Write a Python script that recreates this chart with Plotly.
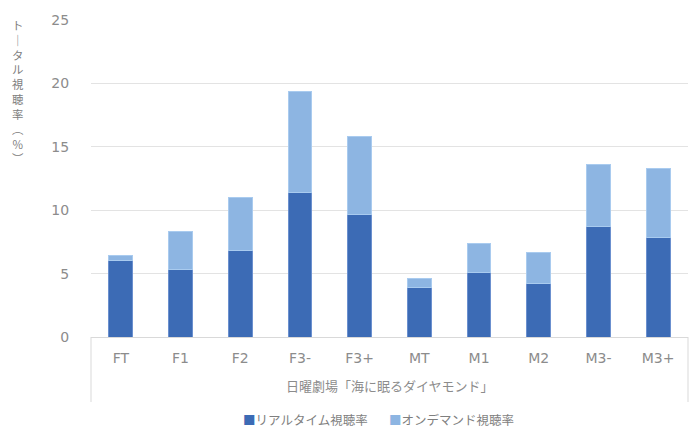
import plotly.graph_objects as go

# Audience ratings by demographic segment (%)
categories = ["FT", "F1", "F2", "F3-", "F3+", "MT", "M1", "M2", "M3-", "M3+"]
realtime = [6.0, 5.35, 6.8, 11.4, 9.65, 3.9, 5.05, 4.25, 8.75, 7.85]
on_demand = [0.45, 3.0, 4.2, 7.95, 6.2, 0.75, 2.35, 2.4, 4.85, 5.4]

series_names = ["リアルタイム視聴率", "オンデマンド視聴率"]
group_label = "日曜劇場「海に眠るダイヤモンド」"
y_title_chars = ["ト", "｜", "タ", "ル", "視", "聴", "率", "︵", "%", "︶"]
y_ticks = [0, 5, 10, 15, 20, 25]

DARK = "#3C6BB5"
LIGHT = "#8DB5E2"
GRID = "#E3E3E3"
TEXT = "#8C8C8C"
CJK = "Noto Sans CJK JP"

fig = go.Figure()
fig.add_trace(go.Bar(
    x=categories, y=realtime, name=series_names[0],
    marker=dict(color=DARK, line=dict(color="#6B90CF", width=1)),
))
fig.add_trace(go.Bar(
    x=categories, y=on_demand, name=series_names[1],
    marker=dict(color=LIGHT, line=dict(color="#A9CBEF", width=1)),
))

fig.update_layout(
    barmode="stack",
    bargap=0.6,
    width=700, height=441,
    margin=dict(l=91, r=12, t=15, b=104),
    paper_bgcolor="white", plot_bgcolor="white",
    showlegend=False,
    font=dict(family="DejaVu Sans", color=TEXT),
)

fig.update_yaxes(
    range=[0, 25], tickvals=y_ticks,
    showgrid=True, gridcolor=GRID, gridwidth=1,
    zeroline=False, showline=False,
    tickfont=dict(size=14, color=TEXT, family="DejaVu Sans"),
    ticks="outside", ticklen=0, ticklabelstandoff=18,
)
fig.update_xaxes(
    showline=True, linecolor="#D9D9D9", linewidth=1,
    tickfont=dict(size=14, color=TEXT, family="DejaVu Sans"),
    ticks="", ticklabelstandoff=8,
)

# Category group frame lines below the axis
for xp in (0, 1):
    fig.add_shape(type="line", xref="paper", yref="paper",
                  x0=xp, x1=xp, y0=0, y1=-0.205,
                  line=dict(color="#D9D9D9", width=1))

# Group label under the tick labels
fig.add_annotation(text=group_label, xref="paper", yref="paper",
                   x=0.5, y=-0.152, showarrow=False,
                   xanchor="center", yanchor="middle",
                   font=dict(family=CJK, size=13, color=TEXT))

# Vertical (upright) axis title, one glyph per line
plot_h = 441 - 15 - 104
fig.add_annotation(text="<br>".join(y_title_chars), xref="paper", yref="paper",
                   x=-0.122, y=(337 - 87.5) / plot_h, showarrow=False,
                   xanchor="center", yanchor="middle",
                   font=dict(family=CJK, size=11.4, color="#808080"))

# Legend entries
legend_x = [0.251, 0.496]
for name, color, lx in zip(series_names, [DARK, LIGHT], legend_x):
    fig.add_annotation(
        text=f"<span style='color:{color}'>■</span>{name}",
        xref="paper", yref="paper", x=lx, y=-0.261,
        showarrow=False, xanchor="left", yanchor="middle",
        font=dict(family=CJK, size=12.5, color="#7F7F7F"),
    )

fig.write_html("out.html")
